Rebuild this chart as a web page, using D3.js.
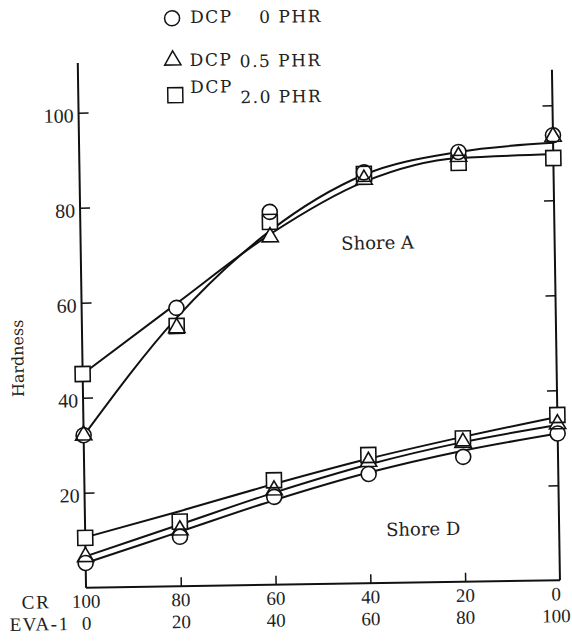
<!DOCTYPE html>
<html>
<head>
<meta charset="utf-8">
<script src="https://cdn.jsdelivr.net/npm/d3@7"></script>
<style>
  body { margin: 0; background: #fff; }
  svg { display: block; }
</style>
</head>
<body>
<div id="wrapper"></div>
<script>
// EVA-1 content (phr); CR = 100 - EVA
const eva = [0, 20, 40, 60, 80, 100];
const crLabels = ["100", "80", "60", "40", "20", "0"];
const evaLabels = ["0", "20", "40", "60", "80", "100"];
const yTicks = [20, 40, 60, 80, 100];

// measured points, Shore A
const shoreA_dcp0 = [32.1, 58.6, 78.5, 86.5, 90.5, 93.7];
const shoreA_dcp05 = [32.1, 54.4, 73.2, 85.0, 89.5, 93.4];
const shoreA_dcp20 = [45.0, 54.8, 76.4, 86.2, 88.2, 88.9];

// measured points, Shore D
const shoreD_dcp0 = [5.2, 10.4, 18.5, 23.0, 26.3, 30.9];
const shoreD_dcp05 = [6.5, 11.8, 19.9, 25.6, 29.3, 32.9];
const shoreD_dcp20 = [10.5, 13.6, 22.0, 27.0, 30.2, 34.8];

// drawn curves
const fitA_low = [32.0, 56.5, 74.5, 86.0, 90.5, 92.1];
const fitA_high = [45.0, 59.5, 73.8, 84.5, 89.2, 89.7];
const fitD_low = [5.2, 11.5, 17.8, 23.3, 27.6, 30.9];
const fitD_mid = [6.6, 13.0, 19.4, 25.0, 29.4, 32.7];
const fitD_high = [10.6, 15.8, 21.2, 26.2, 30.5, 34.4];

const legendLabels = ["0 PHR", "0.5 PHR", "2.0 PHR"];
const legendShapes = ["circle", "triangle", "square"];

const width = 572;
const height = 641;

const svg = d3
  .select("#wrapper")
  .append("svg")
  .attr("width", width)
  .attr("height", height);

// the scan is slightly tilted
const g = svg.append("g").attr("transform", "rotate(-0.9, 320, 330)");

const xScale = d3.scaleLinear().domain([0, 100]).range([82, 556]);
const yScale = d3.scaleLinear().domain([0, 100]).range([584, 109]);

const serif = "'DejaVu Serif', serif";
const tickFont = "'Liberation Serif', 'Times New Roman', Times, serif";

// axes lines
g.append("line")
  .attr("x1", xScale(0)).attr("x2", xScale(0))
  .attr("y1", yScale(0)).attr("y2", yScale(110.5))
  .attr("stroke", "#111").attr("stroke-width", 2);
g.append("line")
  .attr("x1", xScale(100)).attr("x2", xScale(100))
  .attr("y1", yScale(0)).attr("y2", yScale(107.5))
  .attr("stroke", "#111").attr("stroke-width", 2);
g.append("line")
  .attr("x1", xScale(0)).attr("x2", xScale(100))
  .attr("y1", yScale(0)).attr("y2", yScale(0))
  .attr("stroke", "#111").attr("stroke-width", 2);

const leftAxis = d3.axisLeft(yScale)
  .tickValues(yTicks)
  .tickSizeInner(-10)
  .tickSizeOuter(0)
  .tickPadding(5);
const la = g.append("g")
  .attr("transform", `translate(${xScale(0)},0)`)
  .call(leftAxis);
la.select(".domain").remove();
la.selectAll("line").attr("stroke", "#111").attr("stroke-width", 1.5);
la.selectAll("text")
  .attr("dy", "0.45em")
  .attr("font-family", null)
  .style("font-family", tickFont)
  .style("font-size", "20px")
  .attr("fill", "#222");

const rightAxis = d3.axisRight(yScale)
  .tickValues(yTicks)
  .tickSizeInner(-10)
  .tickSizeOuter(0)
  .tickFormat("");
const ra = g.append("g")
  .attr("transform", `translate(${xScale(100)},0)`)
  .call(rightAxis);
ra.select(".domain").remove();
ra.selectAll("line").attr("stroke", "#111").attr("stroke-width", 1.5);

const bottomAxis = d3.axisBottom(xScale)
  .tickValues(eva.slice(1, 5))
  .tickSizeInner(-9)
  .tickSizeOuter(0)
  .tickFormat("");
const ba = g.append("g")
  .attr("transform", `translate(0,${yScale(0)})`)
  .call(bottomAxis);
ba.select(".domain").remove();
ba.selectAll("line").attr("stroke", "#111").attr("stroke-width", 1.5);

// bottom label rows
const row1 = yScale(0) + 20;
const row2 = yScale(0) + 42;
const labelX = (i) => xScale(eva[i]) - (i === eva.length - 1 ? 4 : 0);
g.selectAll(".crLabel")
  .data(crLabels)
  .join("text")
  .attr("class", "crLabel")
  .attr("x", (d, i) => labelX(i))
  .attr("y", row1)
  .attr("text-anchor", "middle")
  .style("font-family", tickFont)
  .style("font-size", "19px")
  .attr("fill", "#222")
  .text((d) => d);
g.selectAll(".evaLabel")
  .data(evaLabels)
  .join("text")
  .attr("class", "evaLabel")
  .attr("x", (d, i) => labelX(i))
  .attr("y", row2)
  .attr("text-anchor", "middle")
  .style("font-family", tickFont)
  .style("font-size", "19px")
  .attr("fill", "#222")
  .text((d) => d);
g.append("text")
  .attr("x", 32).attr("y", row1)
  .attr("text-anchor", "middle")
  .style("font-family", tickFont).style("font-size", "19px")
  .style("letter-spacing", "2px")
  .attr("fill", "#222")
  .text("CR");
g.append("text")
  .attr("x", 35).attr("y", row2)
  .attr("text-anchor", "middle")
  .style("font-family", tickFont).style("font-size", "19px")
  .style("letter-spacing", "1.5px")
  .attr("fill", "#222")
  .text("EVA-1");

// y label
g.append("text")
  .attr("transform", `translate(23, ${yScale(48.5)}) rotate(-90)`)
  .attr("text-anchor", "middle")
  .style("font-family", serif)
  .style("font-size", "16px")
  .attr("fill", "#222")
  .text("Hardness");

g.append("text")
  .attr("x", 379).attr("y", 250)
  .attr("text-anchor", "middle")
  .style("font-family", serif).style("font-size", "18px")
  .attr("fill", "#222")
  .text("Shore A");
g.append("text")
  .attr("x", 420).attr("y", 537)
  .attr("text-anchor", "middle")
  .style("font-family", serif).style("font-size", "18px")
  .attr("fill", "#222")
  .text("Shore D");

// curves
const lineGen = d3.line()
  .x((d, i) => xScale(eva[i]))
  .y((d) => yScale(d))
  .curve(d3.curveMonotoneX);

const fits = [fitA_low, fitA_high, fitD_low, fitD_mid, fitD_high];
g.append("g")
  .selectAll("path")
  .data(fits)
  .join("path")
  .attr("d", lineGen)
  .attr("fill", "none")
  .attr("stroke", "#111")
  .attr("stroke-width", 2);

// markers
const symbolFor = {
  circle: d3.symbol().type(d3.symbolCircle).size(Math.PI * 7.5 * 7.5),
  triangle: d3.symbol().type(d3.symbolTriangle).size(115),
  square: d3.symbol().type(d3.symbolSquare).size(15 * 15),
};

const series = [
  { shape: "circle", values: shoreA_dcp0 },
  { shape: "triangle", values: shoreA_dcp05 },
  { shape: "square", values: shoreA_dcp20 },
  { shape: "circle", values: shoreD_dcp0 },
  { shape: "triangle", values: shoreD_dcp05 },
  { shape: "square", values: shoreD_dcp20 },
];

const points = series.flatMap((s) =>
  s.values.map((v, i) => ({ shape: s.shape, x: eva[i], y: v }))
);

// first pass hides the lines under the marks, second draws outlines
["#fff", "none"].forEach((fill) => {
  g.append("g")
    .selectAll("path")
    .data(points)
    .join("path")
    .attr("transform", (d) => `translate(${xScale(d.x)},${yScale(d.y)})`)
    .attr("d", (d) => symbolFor[d.shape]())
    .attr("fill", fill)
    .attr("stroke", fill === "none" ? "#111" : "none")
    .attr("stroke-width", 1.6);
});

// legend
const legendRows = [
  { mx: 177, my: 16, tx: 195, ty: 21, ex: 327, ey: 22 },
  { mx: 177, my: 58, tx: 194, ty: 64, ex: 326, ey: 66 },
  { mx: 179, my: 93, tx: 194, ty: 91, ex: 326, ey: 102 },
];
const legend = g.append("g");
legendLabels.forEach((label, i) => {
  const r = legendRows[i];
  legend.append("path")
    .attr("transform", `translate(${r.mx},${r.my})`)
    .attr("d", symbolFor[legendShapes[i]]())
    .attr("fill", "none")
    .attr("stroke", "#111")
    .attr("stroke-width", 1.5);
  legend.append("text")
    .attr("x", r.tx).attr("y", r.ty)
    .style("font-family", serif).style("font-size", "17px")
    .style("letter-spacing", "1.5px")
    .attr("fill", "#222")
    .text("DCP");
  legend.append("text")
    .attr("x", r.ex).attr("y", r.ey)
    .attr("text-anchor", "end")
    .style("font-family", serif).style("font-size", "17px")
    .style("letter-spacing", "1.5px")
    .attr("fill", "#222")
    .text(label);
});
</script>
</body>
</html>
